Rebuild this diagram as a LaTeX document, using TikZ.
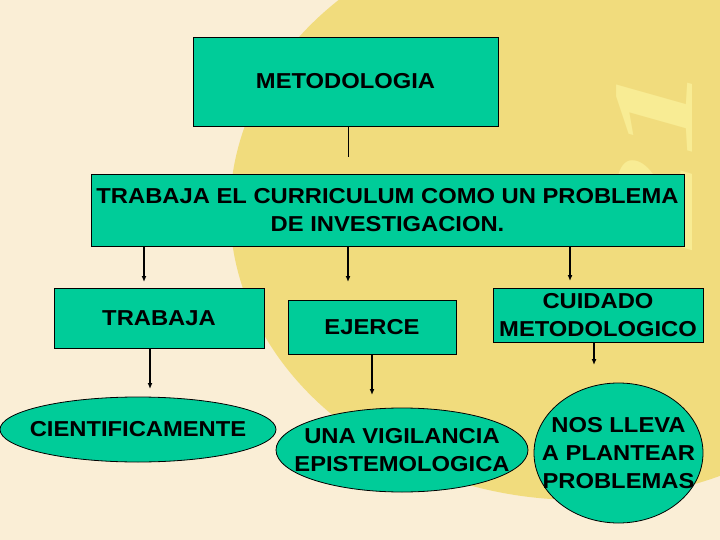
\documentclass[tikz,border=0pt]{standalone}
\usepackage{fontspec}
\setmainfont{Liberation Sans}[FakeStretch=1.1]
\newfontfamily\cifra{Liberation Serif}
\usetikzlibrary{shapes.geometric, arrows.meta}

\definecolor{verde}{RGB}{0,204,153}
\definecolor{crema}{RGB}{250,238,214}
\definecolor{amarillo}{RGB}{241,220,125}
\definecolor{marca}{RGB}{248,236,148}
\newcommand{\letra}{\fontsize{21.6}{28}\selectfont\bfseries}

\begin{document}
\begin{tikzpicture}[x=1pt, y=-1pt,
    caja/.style={rectangle, draw=black, line width=0.8pt, fill=verde,
                 inner sep=0pt, align=center, font=\letra},
    elipse/.style={ellipse, draw=black, line width=0.8pt, fill=verde, inner sep=0pt},
    texto/.style={align=center, font=\letra},
    flecha/.style={-{Latex[length=6pt, width=5pt]}, line width=1.2pt}]
            \useasboundingbox (0,0) rectangle (720,540);

            % fondo
            \fill[crema] (0,0) rectangle (720,540);
            \begin{scope}
                \clip (0,0) rectangle (720,540);
                \fill[amarillo] (580,210) ellipse[x radius=350pt, y radius=290pt];
            \end{scope}
            \node[rotate=90, text=marca, inner sep=0pt,
                  font={\cifra\fontsize{115}{115}\selectfont\bfseries\itshape}]
                  (marca21) at (654,156) {\scalebox{1.6}[1]{21}};

            % cajas
            \node[caja, minimum width=305, minimum height=89] (metodologia) at (345.5,81.5) {METODOLOGIA};
            \node[caja, minimum width=593, minimum height=72] (curriculum) at (387.5,210)
                {TRABAJA EL CURRICULUM COMO UN PROBLEMA\\DE INVESTIGACION.};

            \node[caja, minimum width=210, minimum height=60] (trabaja) at (159,318) {TRABAJA};
            \node[caja, minimum width=168, minimum height=54] (ejerce) at (372,327) {EJERCE};
            \node[caja, minimum width=210, minimum height=54] (cuidado) at (598,315) {CUIDADO\\METODOLOGICO};

            \node[elipse, minimum width=276, minimum height=65,
                  label={[texto]center:CIENTIFICAMENTE}] (cientificamente) at (138,429.5) {};
            \node[elipse, minimum width=252, minimum height=84,
                  label={[texto]center:UNA VIGILANCIA\\EPISTEMOLOGICA}] (vigilancia) at (402,450) {};
            \node[elipse, minimum width=169, minimum height=140,
                  label={[texto]center:NOS LLEVA\\A PLANTEAR\\PROBLEMAS}] (plantear) at (618.5,453) {};

            % conectores
            \coordinate (m1) at (348,157);
            \draw[line width=0.8pt] (metodologia.south -| m1) -- (m1);

            \coordinate (a1) at (144,282);
            \coordinate (a2) at (348,282);
            \coordinate (a3) at (570,281);
            \draw[flecha] (curriculum.south -| a1) -- (a1);
            \draw[flecha] (curriculum.south -| a2) -- (a2);
            \draw[flecha] (curriculum.south -| a3) -- (a3);

            \coordinate (b1) at (150,389);
            \coordinate (b2) at (372,395);
            \coordinate (b3) at (594,365);
            \draw[flecha] (trabaja.south -| b1) -- (b1);
            \draw[flecha] (ejerce.south -| b2) -- (b2);
            \draw[flecha] (cuidado.south -| b3) -- (b3);
        \end{tikzpicture}
\end{document}
